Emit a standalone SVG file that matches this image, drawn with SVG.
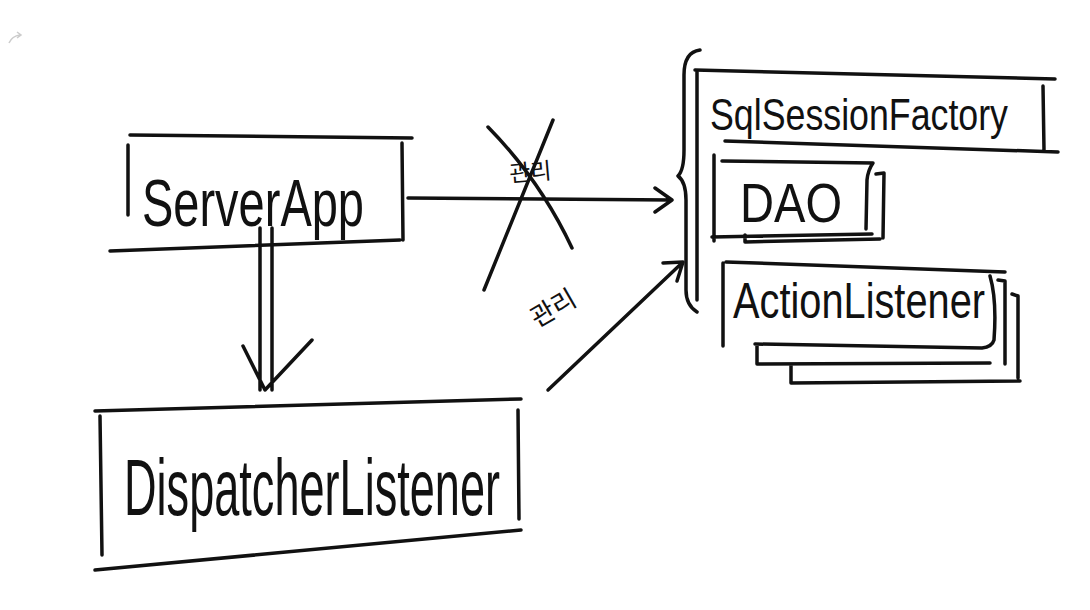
<svg xmlns="http://www.w3.org/2000/svg" width="1090" height="610" viewBox="0 0 1090 610">
<defs>
<style>
.s{fill:none;stroke:#111;stroke-width:3.5;stroke-linecap:round;stroke-linejoin:round}
.t{font-family:"Liberation Sans",Arial,sans-serif;fill:#111;font-weight:normal}
.k{font-family:"Noto Sans CJK KR","Liberation Sans",sans-serif;fill:#111}
</style>
</defs>
<rect width="1090" height="610" fill="#ffffff"/>
<path d="M9 43 Q12 36 20 35 M17 32 L21 35 L17 38" fill="none" stroke="#ccc" stroke-width="1.5"/>

<g id="serverapp">
<path class="s" d="M130 135 L412 138 M128 145 L128 215 M402 143 L403 240 M110 251 L400 240"/>
<text class="t" x="142" y="226" font-size="66" textLength="222" lengthAdjust="spacingAndGlyphs">ServerApp</text>
</g>

<g id="dispatcherlistener">
<path class="s" d="M95 411 L521 399 M100 416 L102 555 M518 410 L519 519 M95 570 L521 530"/>
<text class="t" x="124" y="515" font-size="80" textLength="376" lengthAdjust="spacingAndGlyphs">DispatcherListener</text>
</g>

<g id="sqlsessionfactory">
<path class="s" d="M695 70 L1055 79 M1043 86 L1044 150 M725 141 L1058 152"/>
<text class="t" x="710" y="130" font-size="44" textLength="298" lengthAdjust="spacingAndGlyphs">SqlSessionFactory</text>
</g>

<g id="dao">
<path class="s" d="M722 161 L873 163 Q868 170 867 180 L866 229 M714 155 L714 241 M712 237 L872 234 M745 235 L745 242 L880 239 M876 174 L884 173 L883 238"/>
<text class="t" x="740" y="222" font-size="56" textLength="102" lengthAdjust="spacingAndGlyphs">DAO</text>
</g>

<g id="actionlistener">
<path class="s" d="M726 262 L1005 272 M723 263 L723 346 M990 276 Q997 300 994 340 Q992 347 982 348 L755 344 M757 345 L757 364 L990 363 M998 280 L1005 281 L1005 364 M791 365 L791 383 L1020 381 M1012 294 L1018 296 L1018 378"/>
<text class="t" x="733" y="318" font-size="50" textLength="252" lengthAdjust="spacingAndGlyphs">ActionListener</text>
</g>

<g id="brace">
<path class="s" d="M700 50 Q684 52 684 75 L684 150 Q684 170 678 176 Q686 182 686 200 L686 290 Q686 305 697 312 M697 72 L697 300"/>
</g>

<g id="connectors">
<path class="s" d="M260 228 L260 390 M272 228 L272 390 M243 346 L265 390 L312 340"/>
<path class="s" d="M408 198 L672 200 M655 188 L672 200 L655 212"/>
<path class="s" d="M488 127 Q540 180 572 248 M553 120 L484 290"/>
<text class="k" x="510" y="182" font-size="23" transform="rotate(-5 510 182)">관리</text>
<path class="s" d="M548 390 L683 262 M663 263 L683 262 L677 281"/>
<text class="k" x="537" y="328" font-size="26" transform="rotate(-30 537 328)">관리</text>
</g>
</svg>
